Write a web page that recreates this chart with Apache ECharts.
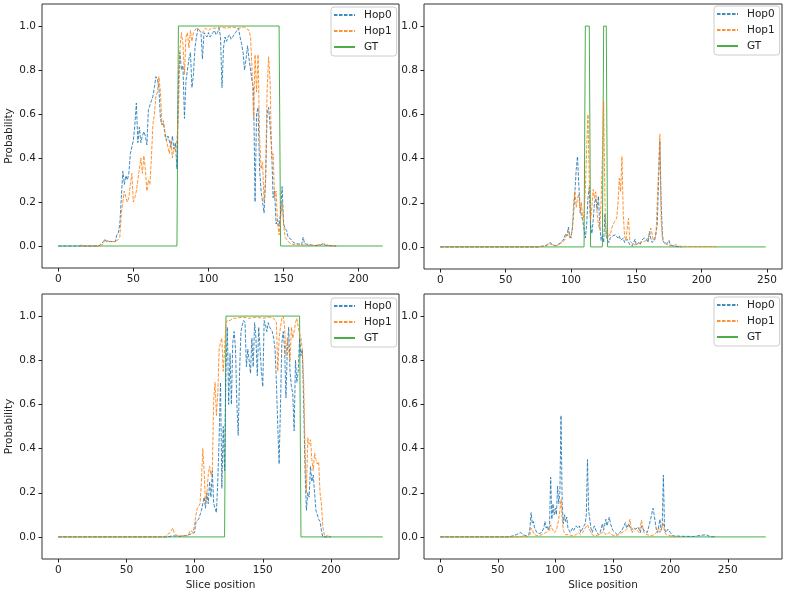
<!DOCTYPE html>
<html>
<head>
<meta charset="utf-8">
<script src="https://cdn.jsdelivr.net/npm/echarts@6.0.0/dist/echarts.min.js"></script>
<style>
  html, body { margin: 0; padding: 0; background: #fff; }
  #chart { width: 787px; height: 589px; }
</style>
</head>
<body>
<div id="chart"></div>
<script>
// series names and tick labels
var seriesNames = ['Hop0', 'Hop1', 'GT'];
var yTicks = [0, 0.2, 0.4, 0.6, 0.8, 1.0];
var xTicksA = [0, 50, 100, 150, 200];
var xTicksB = [0, 50, 100, 150, 200, 250];

// panel 1 (top left)
var p1Hop0 = [[0,0],[27,0],[28,0.005],[30,0.02],[31,0.03],[32,0.02],[34,0.02],[36,0.02],[37,0.025],[38,0.02],[39,0.05],[40,0.06],[41,0.1],[42,0.22],[43,0.34],[44,0.28],[45,0.32],[46,0.3],[47,0.33],[48,0.42],[49,0.45],[50,0.48],[51,0.55],[52,0.65],[53,0.47],[54,0.54],[55,0.47],[56,0.5],[57,0.52],[58,0.5],[59,0.46],[60,0.62],[61,0.64],[62,0.66],[63,0.68],[64,0.72],[65,0.77],[66,0.76],[67,0.72],[68,0.58],[69,0.55],[70,0.56],[71,0.52],[72,0.48],[73,0.5],[74,0.5],[75,0.45],[76,0.5],[77,0.44],[78,0.47],[79,0.35],[80,0.75],[81,0.88],[82,0.8],[83,0.82],[84,0.58],[85,0.75],[86,0.8],[87,0.85],[88,0.88],[89,0.72],[90,0.78],[91,0.9],[92,0.95],[93,0.99],[94,0.98],[95,0.97],[96,0.85],[97,0.97],[98,0.96],[99,0.95],[100,0.97],[101,0.95],[102,0.96],[103,0.97],[104,0.98],[105,0.96],[106,0.97],[107,0.99],[108,0.95],[109,0.72],[110,0.9],[111,0.95],[112,0.93],[113,0.95],[114,0.96],[115,0.94],[116,0.95],[117,0.96],[118,0.97],[119,0.98],[120,0.99],[121,0.95],[122,0.92],[123,0.88],[124,0.8],[125,0.85],[126,0.91],[127,0.85],[128,0.8],[129,0.75],[130,0.72],[131,0.2],[132,0.6],[133,0.63],[134,0.35],[135,0.25],[136,0.2],[137,0.15],[138,0.3],[139,0.6],[140,0.63],[141,0.55],[142,0.45],[143,0.22],[144,0.25],[145,0.1],[146,0.12],[147,0.09],[148,0.15],[149,0.27],[150,0.1],[151,0.08],[152,0.07],[153,0.04],[154,0.035],[155,0.03],[156,0.02],[158,0.01],[160,0.01],[162,0.005],[163,0.04],[164,0.01],[165,0.005],[170,0.003],[174,0.002],[176,0.01],[178,0.003],[180,0.002],[185,0]];
var p1Hop1 = [[15,0.005],[17,0],[28,0],[30,0.01],[31,0.03],[32,0.025],[34,0.02],[36,0.02],[38,0.02],[40,0.03],[41,0.04],[42,0.15],[43,0.2],[44,0.25],[45,0.22],[46,0.2],[47,0.22],[48,0.28],[49,0.33],[50,0.2],[51,0.22],[52,0.25],[53,0.3],[54,0.35],[55,0.4],[56,0.33],[57,0.41],[58,0.35],[59,0.25],[60,0.3],[61,0.28],[62,0.4],[63,0.55],[64,0.6],[65,0.68],[66,0.7],[67,0.77],[68,0.7],[69,0.55],[70,0.57],[71,0.5],[72,0.48],[73,0.45],[74,0.42],[75,0.48],[76,0.4],[77,0.45],[78,0.43],[79,0.48],[80,0.6],[81,0.9],[82,0.97],[83,0.92],[84,0.78],[85,0.95],[86,0.97],[87,0.9],[88,0.98],[89,0.93],[90,0.97],[91,0.98],[92,0.99],[94,0.98],[96,0.97],[98,0.99],[100,0.98],[102,0.99],[105,0.99],[108,0.995],[112,0.99],[116,0.995],[120,0.99],[124,0.995],[127,0.98],[128,0.95],[129,0.8],[130,0.58],[131,0.87],[132,0.7],[133,0.87],[134,0.5],[135,0.35],[136,0.38],[137,0.2],[138,0.3],[139,0.7],[140,0.86],[141,0.75],[142,0.4],[143,0.42],[144,0.22],[145,0.25],[146,0.1],[147,0.05],[148,0.05],[149,0.2],[150,0.1],[151,0.04],[152,0.03],[153,0.02],[155,0.01],[158,0.005],[160,0.005],[165,0.003],[170,0.002],[177,0.01],[180,0.003],[185,0]];
var p1Gt = [[0,0],[79,0],[80,1],[147,1],[148,0],[216,0]];

// panel 2 (top right)
var p2Hop0 = [[0,0],[75,0],[78,0.003],[80,0.005],[82,0.008],[84,0.02],[86,0.01],[88,0.005],[90,0.01],[92,0.02],[94,0.03],[96,0.06],[97,0.05],[98,0.09],[99,0.05],[100,0.04],[101,0.08],[102,0.15],[103,0.25],[104,0.35],[105,0.41],[106,0.28],[107,0.18],[108,0.14],[109,0.12],[110,0.08],[111,0.04],[112,0.1],[113,0.22],[114,0.27],[115,0.1],[116,0.06],[117,0.12],[118,0.2],[119,0.22],[120,0.17],[121,0.23],[122,0.1],[123,0.03],[124,0.05],[125,0.02],[126,0.15],[127,0.05],[128,0.03],[129,0.02],[130,0.04],[132,0.05],[134,0.055],[136,0.04],[137,0.05],[138,0.03],[140,0.04],[141,0.02],[143,0.035],[145,0.01],[147,0.005],[149,0.035],[150,0.01],[152,0.02],[153,0.01],[154,0.03],[156,0.04],[158,0.035],[159,0.02],[160,0.07],[161,0.04],[162,0.02],[164,0.03],[166,0.1],[167,0.3],[168,0.48],[169,0.2],[170,0.05],[171,0.02],[172,0.015],[173,0.01],[174,0.02],[175,0.03],[176,0.01],[178,0.005],[180,0.002],[185,0]];
var p2Hop1 = [[0,0],[75,0],[80,0.005],[83,0.015],[84,0.02],[86,0.01],[88,0.005],[90,0.008],[93,0.02],[95,0.03],[96,0.045],[97,0.04],[98,0.07],[99,0.04],[100,0.05],[101,0.08],[102,0.2],[103,0.25],[104,0.18],[105,0.22],[106,0.24],[107,0.15],[108,0.2],[109,0.12],[110,0.15],[111,0.26],[112,0.45],[113,0.6],[114,0.3],[115,0.12],[116,0.18],[117,0.26],[118,0.22],[119,0.25],[120,0.15],[121,0.1],[122,0.08],[123,0.2],[124,0.4],[125,0.66],[126,0.2],[127,0.05],[128,0.04],[129,0.06],[130,0.05],[131,0.08],[132,0.1],[133,0.11],[134,0.12],[135,0.13],[136,0.2],[137,0.31],[138,0.25],[139,0.41],[140,0.15],[141,0.05],[142,0.03],[143,0.08],[144,0.13],[145,0.03],[146,0.02],[148,0.01],[150,0.01],[152,0.015],[154,0.02],[156,0.025],[158,0.03],[160,0.05],[161,0.085],[162,0.06],[163,0.03],[165,0.05],[166,0.2],[167,0.35],[168,0.51],[169,0.12],[170,0.03],[172,0.02],[174,0.01],[177,0.005],[181,0.01],[183,0.003],[190,0.002],[200,0.002],[210,0.002],[211,0]];
var p2Gt = [[0,0],[110,0],[111,1],[114,1],[115,0],[124,0],[125,1],[127,1],[128,0],[249,0]];

// panel 3 (bottom left)
var p3Hop0 = [[0,0],[80,0],[84,0.005],[90,0.002],[96,0.01],[100,0.02],[101,0.07],[102,0.07],[103,0.08],[104,0.1],[105,0.12],[106,0.15],[107,0.18],[108,0.13],[109,0.2],[110,0.15],[111,0.25],[112,0.18],[113,0.3],[114,0.15],[115,0.13],[116,0.11],[117,0.25],[118,0.45],[119,0.7],[120,0.22],[121,0.5],[122,0.3],[123,0.75],[124,0.95],[125,0.6],[126,0.83],[127,0.6],[128,0.88],[129,0.93],[130,0.85],[131,0.6],[132,0.46],[133,0.75],[134,0.93],[135,0.96],[136,0.98],[137,0.97],[138,0.77],[139,0.85],[140,0.8],[141,0.74],[142,0.9],[143,0.77],[144,0.97],[145,0.9],[146,0.73],[147,0.95],[148,0.85],[149,0.75],[150,0.68],[151,0.98],[152,0.96],[153,0.93],[154,0.97],[155,0.95],[156,0.94],[157,0.93],[158,0.9],[159,0.85],[160,0.7],[161,0.5],[162,0.33],[163,0.6],[164,0.88],[165,0.93],[166,0.85],[167,0.63],[168,0.85],[169,0.95],[170,0.75],[171,0.68],[172,0.65],[173,0.48],[174,0.8],[175,0.7],[176,0.75],[177,0.9],[178,0.82],[179,0.85],[180,0.6],[181,0.3],[182,0.12],[183,0.2],[184,0.18],[185,0.32],[186,0.25],[187,0.28],[188,0.2],[189,0.12],[190,0.1],[191,0.08],[192,0.07],[193,0.03],[194,0],[200,0]];
var p3Hop1 = [[0,0],[78,0],[80,0.01],[82,0.02],[84,0.04],[85,0.02],[86,0.01],[88,0.005],[92,0.005],[95,0.005],[97,0.03],[98,0.025],[99,0.02],[100,0.06],[101,0.1],[102,0.13],[103,0.14],[104,0.15],[105,0.25],[106,0.4],[107,0.3],[108,0.15],[109,0.2],[110,0.28],[111,0.32],[112,0.28],[113,0.3],[114,0.62],[115,0.7],[116,0.55],[117,0.65],[118,0.85],[119,0.88],[120,0.9],[121,0.75],[122,0.85],[123,0.97],[124,0.98],[126,0.98],[128,0.99],[130,0.99],[135,0.995],[140,0.99],[145,0.995],[150,0.99],[155,0.995],[158,0.99],[160,0.97],[161,0.75],[162,0.9],[163,0.95],[164,0.99],[165,1.0],[166,0.95],[167,0.82],[168,0.9],[169,0.85],[170,0.8],[171,0.95],[172,0.9],[173,0.93],[174,0.97],[175,0.99],[176,0.95],[177,0.92],[178,0.9],[179,0.85],[180,0.7],[181,0.4],[182,0.2],[183,0.45],[184,0.42],[185,0.44],[186,0.35],[187,0.3],[188,0.38],[189,0.35],[190,0.33],[191,0.34],[192,0.2],[193,0.15],[194,0.05],[195,0.01],[197,0.005],[200,0]];
var p3Gt = [[0,0],[122,0],[123,1],[177,1],[178,0],[238,0]];

// panel 4 (bottom right)
var p4Hop0 = [[0,0],[60,0],[63,0.005],[66,0.01],[68,0.015],[70,0.02],[72,0.01],[75,0.005],[77,0.01],[78,0.04],[79,0.11],[80,0.06],[81,0.07],[82,0.04],[84,0.02],[86,0.015],[88,0.02],[90,0.04],[91,0.07],[92,0.04],[93,0.05],[94,0.03],[95,0.05],[96,0.27],[97,0.08],[98,0.15],[99,0.1],[100,0.13],[101,0.1],[102,0.23],[103,0.15],[104,0.2],[105,0.55],[106,0.15],[107,0.06],[108,0.1],[109,0.07],[110,0.09],[111,0.04],[113,0.02],[115,0.04],[116,0.03],[118,0.05],[120,0.04],[121,0.05],[122,0.02],[124,0.04],[126,0.06],[127,0.1],[128,0.35],[129,0.12],[130,0.08],[131,0.04],[132,0.02],[134,0.05],[136,0.02],[138,0.01],[139,0.02],[141,0.06],[142,0.03],[144,0.08],[145,0.05],[147,0.09],[148,0.06],[150,0.03],[152,0.02],[154,0.01],[156,0.02],[158,0.03],[161,0.065],[162,0.04],[164,0.06],[166,0.03],[168,0.04],[170,0.035],[172,0.045],[174,0.02],[175,0.05],[177,0.03],[180,0.02],[182,0.06],[185,0.13],[186,0.1],[188,0.03],[189,0.02],[191,0.08],[192,0.03],[193,0.05],[194,0.28],[195,0.04],[196,0.02],[198,0.035],[200,0.02],[202,0.005],[210,0.003],[220,0.002],[231,0.01],[235,0.001],[240,0]];
var p4Hop1 = [[0,0],[70,0],[72,0.005],[76,0.002],[78,0.01],[79,0.04],[80,0.03],[82,0.01],[85,0.005],[88,0.01],[92,0.02],[95,0.03],[96,0.055],[97,0.04],[99,0.02],[101,0.03],[103,0.08],[104,0.12],[105,0.17],[106,0.08],[107,0.03],[109,0.01],[112,0.01],[115,0.005],[118,0.01],[120,0.02],[122,0.01],[124,0.02],[126,0.04],[128,0.055],[130,0.03],[132,0.01],[135,0.005],[138,0.01],[142,0.025],[144,0.01],[147,0.02],[149,0.01],[152,0.005],[155,0.01],[158,0.02],[161,0.03],[163,0.04],[165,0.08],[166,0.04],[167,0.02],[169,0.04],[171,0.03],[173,0.02],[175,0.075],[177,0.02],[180,0.01],[183,0.005],[186,0.01],[188,0.02],[190,0.04],[191,0.02],[194,0.06],[195,0.02],[197,0.01],[200,0.005],[205,0]];
var p4Gt = [[0,0],[283,0]];

var panels = [
    {grid: {left: 42, top: 4, width: 357, height: 264}, xMin: -10.8, xMax: 226.8, xTicks: xTicksA,
     legend: {left: 331, top: 7}, yName: 'Probability', xName: '', data: [p1Hop0, p1Hop1, p1Gt]},
    {grid: {left: 424, top: 4, width: 358, height: 265}, xMin: -12.45, xMax: 261.45, xTicks: xTicksB,
     legend: {left: 714, top: 6}, yName: '', xName: '', data: [p2Hop0, p2Hop1, p2Gt]},
    {grid: {left: 42, top: 294, width: 357, height: 265}, xMin: -11.9, xMax: 249.9, xTicks: xTicksA,
     legend: {left: 331, top: 298}, yName: 'Probability', xName: 'Slice position', data: [p3Hop0, p3Hop1, p3Gt]},
    {grid: {left: 424, top: 294, width: 358, height: 265}, xMin: -14.15, xMax: 297.15, xTicks: xTicksB,
     legend: {left: 714, top: 297}, yName: '', xName: 'Slice position', data: [p4Hop0, p4Hop1, p4Gt]}
];

var colors = ['#1f77b4', '#ff7f0e', '#2ca02c'];
var lineTypes = [[3.5, 1.5], [3.5, 1.5], 'solid'];
var font = 'DejaVu Sans';
var textColor = '#222';

var option = {
    animation: false,
    backgroundColor: '#fff',
    grid: [],
    xAxis: [],
    yAxis: [],
    legend: [],
    series: []
};

panels.forEach(function (p, i) {
    option.grid.push({
        left: p.grid.left, top: p.grid.top, width: p.grid.width, height: p.grid.height,
        outerBoundsMode: 'none', containLabel: false,
        show: true, borderColor: '#333', borderWidth: 1, backgroundColor: '#fff'
    });
    option.xAxis.push({
        type: 'value', gridIndex: i, min: p.xMin, max: p.xMax,
        splitLine: {show: false},
        axisLine: {show: false, onZero: false},
        axisTick: {show: true, length: 3.5, customValues: p.xTicks, lineStyle: {color: textColor}},
        axisLabel: {customValues: p.xTicks, color: textColor, fontFamily: font, fontSize: 10.5, margin: 6},
        name: p.xName, nameLocation: 'middle', nameGap: 21,
        nameTextStyle: {color: textColor, fontFamily: font, fontSize: 10.5}
    });
    option.yAxis.push({
        type: 'value', gridIndex: i, min: -0.1, max: 1.1,
        splitLine: {show: false},
        axisLine: {show: false, onZero: false},
        axisTick: {show: true, length: 3.5, customValues: yTicks, lineStyle: {color: textColor}},
        axisLabel: {
            customValues: yTicks, color: textColor, fontFamily: font, fontSize: 10.5, margin: 6,
            formatter: function (v) { return v.toFixed(1); }
        },
        name: p.yName, nameLocation: 'middle', nameGap: 27,
        nameTextStyle: {color: textColor, fontFamily: font, fontSize: 10.5}
    });
    option.legend.push({
        data: seriesNames,
        orient: 'vertical',
        left: p.legend.left, top: p.legend.top,
        padding: [1, 5, 2, 2],
        itemWidth: 21, itemHeight: 8, itemGap: 2,
        backgroundColor: 'rgba(255,255,255,0.8)',
        borderColor: '#ccc', borderWidth: 1, borderRadius: 3,
        itemStyle: {opacity: 0},
        selectedMode: false,
        textStyle: {color: textColor, fontFamily: font, fontSize: 10.5, lineHeight: 14, padding: [0, 0, 0, 4]}
    });
    p.data.forEach(function (d, k) {
        option.series.push({
            name: seriesNames[k],
            type: 'line',
            xAxisIndex: i, yAxisIndex: i,
            data: d,
            symbol: 'none',
            z: k === 2 ? 1 : 2,
            lineStyle: {color: colors[k], width: 1, type: lineTypes[k], opacity: 0.85},
            itemStyle: {color: colors[k]}
        });
    });
});

var chart = echarts.init(document.getElementById('chart'));
chart.setOption(option);
</script>
</body>
</html>
